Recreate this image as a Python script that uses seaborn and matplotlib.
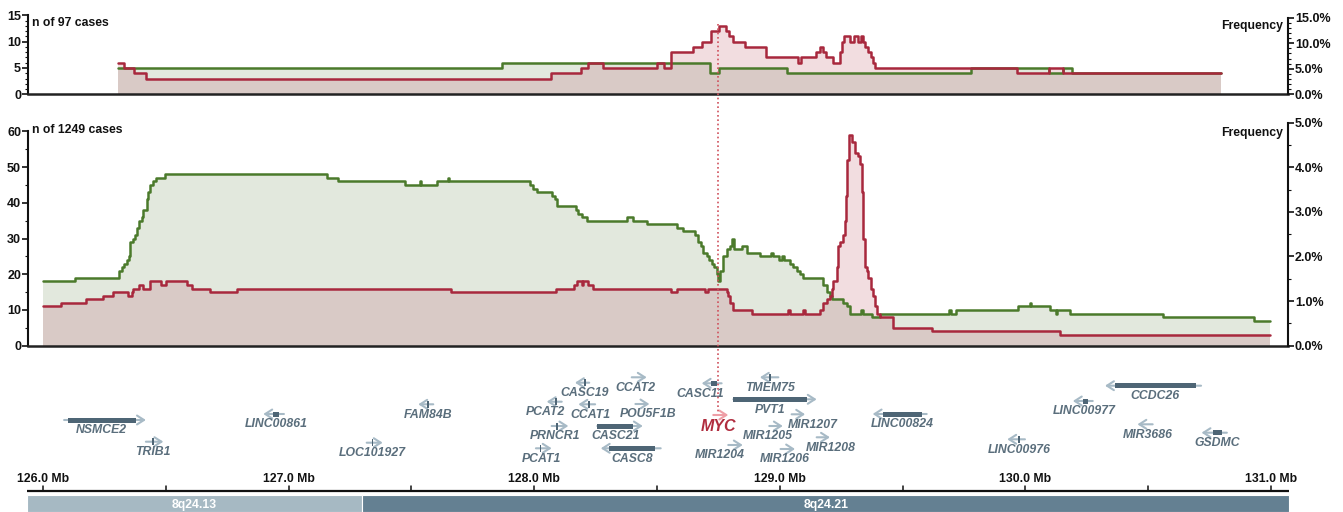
import numpy as np
import pandas as pd
import seaborn as sns
import matplotlib.pyplot as plt
from matplotlib.ticker import MultipleLocator, FuncFormatter

# ---- copy-number tracks (segment start in Mb, number of cases); last entry closes the track
top_green_mb = [126.307, 127.87, 128.716, 128.752, 129.03, 129.78, 130.097, 130.152, 130.188, 130.797]
top_green_n = [5, 6, 4, 5, 4, 5, 4, 5, 4, 4]

top_red_mb = [126.307, 126.33, 126.37, 126.42, 128.07, 128.19, 128.22, 128.28, 128.50, 128.53,
              128.556, 128.645, 128.685, 128.72, 128.754, 128.78, 128.794, 128.808, 128.858, 128.944,
              129.075, 129.085, 129.146, 129.164, 129.177, 129.19, 129.218, 129.245, 129.253, 129.263,
              129.286, 129.302, 129.320, 129.329, 129.340, 129.347, 129.361, 129.370, 129.378, 129.388,
              129.967, 130.097, 130.152, 130.797]
top_red_n = [6, 5, 4, 3, 4, 5, 6, 5, 6, 5,
             8, 9, 10, 12, 13, 12, 11, 10, 9, 7,
             6, 7, 8, 9, 8, 7, 6, 8, 10, 11,
             10, 11, 10, 11, 10, 9, 8, 7, 6, 5,
             4, 5, 4, 4]

bot_green_mb = [126.0, 126.13, 126.311, 126.320, 126.330, 126.341, 126.349, 126.354, 126.365, 126.375,
                126.381, 126.392, 126.402, 126.409, 126.422, 126.429, 126.436, 126.449, 126.46, 126.497,
                127.155, 127.203, 127.474, 127.533, 127.54, 127.603, 127.648, 127.654, 127.983, 127.994,
                128.013, 128.071, 128.085, 128.094, 128.170, 128.180, 128.193, 128.214, 128.377, 128.404,
                128.458, 128.580, 128.607, 128.655, 128.668, 128.678, 128.689, 128.702, 128.713, 128.723,
                128.732, 128.743, 128.750, 128.757, 128.770, 128.784, 128.797, 128.806, 128.812, 128.845,
                128.865, 128.919, 128.965, 128.972, 128.995, 129.010, 129.016, 129.042, 129.055, 129.069,
                129.082, 129.096, 129.177, 129.191, 129.204, 129.211, 129.259, 129.272, 129.286, 129.330,
                129.337, 129.374, 129.408, 129.690, 129.697, 129.717, 129.971, 130.017, 130.022, 130.100,
                130.125, 130.130, 130.182, 130.562, 130.931, 130.996]
bot_green_n = [18, 19, 21, 22, 23, 24, 25, 29, 30, 31,
               33, 35, 36, 38, 41, 43, 45, 46, 47, 48,
               47, 46, 45, 46, 45, 46, 47, 46, 45, 44,
               43, 42, 41, 39, 38, 37, 36, 35, 36, 35,
               34, 33, 32, 31, 29, 28, 26, 25, 24, 23,
               22, 20, 18, 21, 25, 27, 28, 30, 27, 28,
               26, 25, 26, 25, 24, 25, 24, 23, 22, 21,
               20, 19, 17, 15, 14, 13, 12, 11, 9, 10,
               9, 8, 9, 10, 9, 10, 11, 12, 11, 10,
               9, 10, 9, 8, 7, 7]

bot_red_mb = [126.0, 126.073, 126.175, 126.245, 126.284, 126.347, 126.361, 126.365, 126.392, 126.406,
              126.436, 126.480, 126.50, 126.585, 126.605, 126.68, 126.789, 127.66, 128.089, 128.162,
              128.175, 128.193, 128.200, 128.22, 128.24, 128.556, 128.580, 128.696, 128.709, 128.784,
              128.791, 128.797, 128.811, 128.886, 129.035, 129.042, 129.096, 129.103, 129.164, 129.175,
              129.191, 129.204, 129.211, 129.218, 129.232, 129.238, 129.245, 129.259, 129.265, 129.27,
              129.275, 129.283, 129.293, 129.306, 129.32, 129.327, 129.333, 129.34, 129.347, 129.354,
              129.36, 129.37, 129.378, 129.388, 129.397, 129.408, 129.462, 129.621, 130.141, 130.996]
bot_red_n = [11, 12, 13, 14, 15, 14, 15, 16, 17, 16,
             18, 17, 18, 17, 16, 15, 16, 15, 16, 17,
             18, 17, 18, 17, 16, 15, 16, 15, 16, 15,
             14, 12, 10, 9, 10, 9, 10, 9, 10, 12,
             13, 14, 16, 18, 22, 28, 29, 31, 35, 42,
             52, 59, 57, 54, 53, 51, 43, 30, 22, 21,
             19, 16, 14, 11, 9, 8, 5, 4, 3, 3]

top_cases = 97
bot_cases = 1249

# ---- genes (Mb)
gene_names = ['NSMCE2', 'TRIB1', 'LINC00861', 'LOC101927', 'FAM84B', 'PCAT1', 'PCAT2', 'PRNCR1',
              'CASC19', 'CCAT1', 'CASC21', 'CASC8', 'CCAT2', 'POU5F1B', 'CASC11', 'MYC', 'MIR1204',
              'PVT1', 'TMEM75', 'MIR1205', 'MIR1206', 'MIR1207', 'MIR1208', 'LINC00824', 'LINC00976',
              'LINC00977', 'CCDC26', 'MIR3686', 'GSDMC']
gene_start = [126.086, 126.419, 126.897, 127.318, 127.528, 128.007, 128.051, 128.071,
              128.166, 128.180, 128.257, 128.271, 128.397, 128.412, 128.682, 128.729, 128.790,
              128.811, 128.919, 128.957, 129.003, 129.048, 129.150, 129.378, 129.926,
              130.193, 130.324, 130.456, 130.717]
gene_end = [126.419, 126.490, 126.981, 127.383, 127.589, 128.071, 128.112, 128.139,
            128.224, 128.248, 128.442, 128.515, 128.458, 128.469, 128.763, 128.790, 128.849,
            129.150, 128.994, 129.012, 129.062, 129.103, 129.204, 129.598, 129.998,
            130.274, 130.715, 130.518, 130.820]
gene_strand = ['+', '+', '-', '+', '-', '+', '-', '+',
               '-', '-', '+', '-', '+', '+', '-', '+', '+',
               '+', '-', '+', '+', '+', '+', '-', '-',
               '-', '-', '-', '-']
gene_cds_start = [126.103, 126.444, 126.935, 127.338, 127.565, 128.022, 128.085, 128.090,
                  128.203, 128.220, 128.257, 128.306, np.nan, np.nan, 128.719, np.nan, np.nan,
                  128.811, 128.956, np.nan, np.nan, np.nan, np.nan, 129.421, 129.970,
                  130.233, 130.365, np.nan, 130.763]
gene_cds_end = [126.379, 126.452, 126.962, 127.345, 127.572, 128.029, 128.092, 128.097,
                128.210, 128.227, 128.403, 128.492, np.nan, np.nan, 128.743, np.nan, np.nan,
                129.112, 128.963, np.nan, np.nan, np.nan, np.nan, 129.578, 129.977,
                130.256, 130.693, np.nan, 130.799]
gene_row = [420, 441.7, 414, 442.7, 404.3, 448.3, 401.7, 426,
            382.7, 404.3, 426, 448.3, 377.3, 404, 383.3, 415, 445,
            399.3, 377.3, 426, 449, 414.3, 437.3, 414, 439.3,
            401, 385.7, 424.3, 432.7]
gene_label_mb = [126.239, 126.449, 126.949, 127.340, 127.568, 128.030, 128.044, 128.085,
                 128.207, 128.230, 128.332, 128.397, 128.413, 128.465, 128.675, 128.750, 128.754,
                 128.960, 128.960, 128.953, 129.021, 129.134, 129.207, 129.498, 129.974,
                 130.240, 130.528, 130.498, 130.779]

band_names = ['8q24.13', '8q24.21']
band_start = [125.935, 127.30]
band_end = [127.30, 131.073]
band_colors = ['#a6b9c3', '#648092']

ruler_ticks = np.arange(126.0, 131.01, 0.5)
focus_gene = 'MYC'

W, H = 1343, 512
X0, X1 = 125.939, 131.069
GREEN, RED = '#4b7a2b', '#a8283d'
GREEN_FILL, RED_FILL, BOTH_FILL = '#e2e8dd', '#f2dde0', '#d9cac6'
DARK, LIGHT, LABEL = '#4e6575', '#a7bac6', '#5a6e7c'

sns.set_theme(style='white')
plt.rcParams['font.family'] = ['Liberation Sans', 'DejaVu Sans']
plt.rcParams['font.weight'] = 'bold'
FS = 8.8

fig = plt.figure(figsize=(W / 100, H / 100), dpi=100)


def step_at(xs, vs, grid):
    idx = np.searchsorted(xs, grid, side='right') - 1
    return np.asarray(vs)[np.clip(idx, 0, len(vs) - 1)]


def panel(y_top, y_bot, g_mb, g_n, r_mb, r_n, cases, ymax, lstep, lminor, rmax, rstep, rminor, label):
    ax = fig.add_axes([28 / W, 1 - y_bot / H, 1260 / W, (y_bot - y_top) / H])
    grid = np.union1d(g_mb, r_mb)
    g = step_at(g_mb, g_n, grid)
    r = step_at(r_mb, r_n, grid)
    low = np.minimum(g, r)
    ax.fill_between(grid, 0, low, step='post', color=BOTH_FILL, lw=0)
    ax.fill_between(grid, low, g, step='post', color=GREEN_FILL, lw=0)
    ax.fill_between(grid, low, r, step='post', color=RED_FILL, lw=0)
    sns.lineplot(x=g_mb, y=g_n, ax=ax, drawstyle='steps-post', color=GREEN, lw=1.8)
    sns.lineplot(x=r_mb, y=r_n, ax=ax, drawstyle='steps-post', color=RED, lw=1.8)
    ax.set_xlim(X0, X1)
    ax.set_ylim(0, ymax)
    ax.set_xticks([])
    ax.set_xlabel('')
    ax.set_ylabel('')
    ax.patch.set_alpha(0)
    ltop = (ymax // lstep) * lstep
    ax.set_yticks(np.arange(0, ltop + 0.01, lstep))
    ax.yaxis.set_minor_locator(MultipleLocator(lminor))
    ax.spines['top'].set_visible(False)
    ax.spines['right'].set_visible(False)
    ax.spines['left'].set_bounds(0, ltop)
    ax.spines['left'].set_linewidth(1.5)
    ax.spines['left'].set_color('#111111')
    ax.spines['bottom'].set_linewidth(1.8)
    ax.spines['bottom'].set_color('#222222')
    ax.tick_params(axis='y', which='major', direction='out', length=4, width=1.2, pad=1,
                   labelsize=9, left=True, colors='#111111')
    ax.tick_params(axis='y', which='minor', direction='out', length=2, width=0.8, left=True, colors='#111111')
    for t in ax.get_yticklabels():
        t.set_fontweight('bold')

    axr = ax.twinx()
    axr.set_ylim(0, ymax / cases * 100)
    axr.set_yticks(np.arange(0, rmax + 0.001, rstep))
    axr.yaxis.set_minor_locator(MultipleLocator(rminor))
    axr.yaxis.set_major_formatter(FuncFormatter(lambda v, _: f'{v:.1f}%'))
    for s in ['top', 'left', 'bottom']:
        axr.spines[s].set_visible(False)
    axr.spines['right'].set_bounds(0, rmax)
    axr.spines['right'].set_linewidth(1.5)
    axr.spines['right'].set_color('#111111')
    axr.tick_params(axis='y', which='major', direction='out', length=4, width=1.2, pad=1,
                    labelsize=9, right=True, colors='#111111')
    axr.tick_params(axis='y', which='minor', direction='out', length=2, width=0.8, right=True, colors='#111111')
    for t in axr.get_yticklabels():
        t.set_fontweight('bold')
    axr.grid(False)
    ax.grid(False)
    fig.text(32 / W, 1 - (y_top + 7.5) / H, label, fontsize=FS, fontweight='bold', va='center', color='#111111')
    fig.text(1283 / W, 1 - (y_top + 10.5) / H, 'Frequency', fontsize=FS, fontweight='bold',
             va='center', ha='right', color='#111111')
    return ax


panel(15.3, 94.3, top_green_mb, top_green_n, top_red_mb, top_red_n, top_cases,
      15, 5, 1, 15, 5, 1, f'n of {top_cases} cases')
panel(122.6, 345.7, bot_green_mb, bot_green_n, bot_red_mb, bot_red_n, bot_cases,
      0.05 * bot_cases, 10, 5, 5, 1, 0.5, f'n of {bot_cases} cases')

# ---- gene track, ruler and cytobands
ax_g = fig.add_axes([28 / W, 0, 1260 / W, 1], zorder=5)
ax_g.set_xlim(X0, X1)
ax_g.set_ylim(H, 0)
ax_g.axis('off')
ax_g.patch.set_alpha(0)

genes = pd.DataFrame({'name': gene_names, 'start': gene_start, 'end': gene_end, 'strand': gene_strand,
                      'cds_start': gene_cds_start, 'cds_end': gene_cds_end, 'row': gene_row,
                      'label_mb': gene_label_mb})

for _, gn in genes.iterrows():
    focus = gn['name'] == focus_gene
    col = '#ee9ea6' if focus else LIGHT
    tail, head = (gn['start'], gn['end']) if gn['strand'] == '+' else (gn['end'], gn['start'])
    ax_g.annotate('', xy=(head, gn['row']), xytext=(tail, gn['row']),
                  arrowprops=dict(arrowstyle='->,head_length=0.5,head_width=0.32', color=col, lw=1.5,
                                  shrinkA=0, shrinkB=0, mutation_scale=10), zorder=2)
    if not np.isnan(gn['cds_start']):
        w = gn['cds_end'] - gn['cds_start']
        ax_g.barh(gn['row'], w, left=gn['cds_start'], height=5 if w > 0.015 else 7, color=DARK, lw=0,
                  zorder=4)
    if focus:
        ax_g.text(gn['label_mb'], gn['row'] + 11.7, gn['name'], ha='center', va='center', fontsize=11.5,
                  fontstyle='italic', fontweight='bold', color='#b02c3e')
        ax_g.plot([gn['label_mb'], gn['label_mb']], [24, gn['row'] - 2], color='#d0505c', lw=1.2,
                  linestyle=(0, (1, 1.6)), zorder=3)
    else:
        ax_g.text(gn['label_mb'], gn['row'] + 10.3, gn['name'], ha='center', va='center', fontsize=FS,
                  fontstyle='italic', fontweight='bold', color=LABEL)

ax_g.plot([band_start[0], band_end[-1]], [491, 491], color='#111111', lw=1.6, clip_on=False,
          solid_capstyle='butt')
for m in ruler_ticks:
    ax_g.plot([m, m], [491, 486], color='#111111', lw=1.1)
    if abs(m - round(m)) < 1e-6:
        ax_g.text(m, 479.5, f'{m:.1f} Mb', ha='center', va='center', fontsize=FS, fontweight='bold',
                  color='#111111')

for name, s, e, c in zip(band_names, band_start, band_end, band_colors):
    ax_g.barh(503.5, e - s, left=s, height=17, color=c, edgecolor='white', lw=0.8, clip_on=False)
    ax_g.text((s + e) / 2, 505, name, ha='center', va='center', fontsize=FS, fontweight='bold',
              color='white')

fig.savefig('out.png', dpi=100)
